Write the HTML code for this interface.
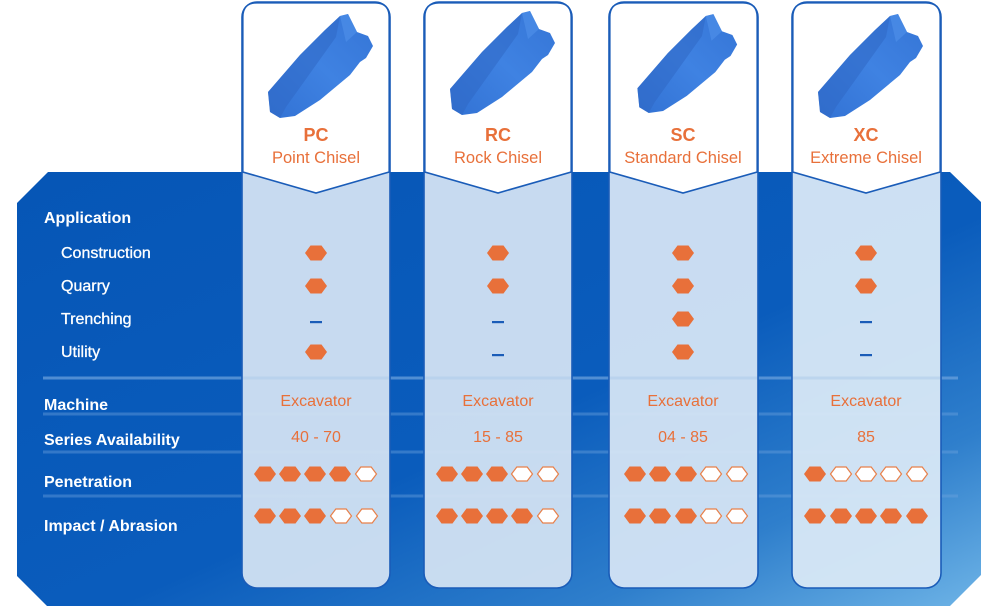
<!DOCTYPE html>
<html><head><meta charset="utf-8"><style>
html,body{margin:0;padding:0;background:#fff;width:1000px;height:606px;overflow:hidden}
text{font-family:"Liberation Sans",sans-serif}
</style></head><body>
<svg width="1000" height="606" viewBox="0 0 1000 606" xmlns="http://www.w3.org/2000/svg">
<defs>
<linearGradient id="bg" x1="0" y1="0" x2="1" y2="1" gradientUnits="objectBoundingBox">
<stop offset="0" stop-color="#0656b6"/>
<stop offset="0.55" stop-color="#0a5cbc"/>
<stop offset="0.8" stop-color="#2f7fcc"/>
<stop offset="1" stop-color="#6db3e6"/>
</linearGradient>
<linearGradient id="tooth" x1="0" y1="1" x2="1" y2="0">
<stop offset="0" stop-color="#3272d4"/>
<stop offset="0.5" stop-color="#3f82e2"/>
<stop offset="1" stop-color="#3575d6"/>
</linearGradient>
<g id="hf"><polygon points="-11,0 -5.5,-7.5 5.5,-7.5 11,0 5.5,7.5 -5.5,7.5" fill="#e8703a"/></g>
<g id="he"><polygon points="-10.5,0 -5.2,-7 5.2,-7 10.5,0 5.2,7 -5.2,7" fill="#fff" stroke="#e8804a" stroke-width="1.2"/></g>
<g id="dash"><rect x="-6" y="-1" width="12" height="2.2" fill="#1a5cb8"/></g>
<g id="th">
<polygon points="-48,-25 -16,-62 9,-87 24,-101 32,-103 36,-95 41,-85 52,-81 57,-71 50,-59 44,-55 34,-42 4,-17 -21,-1 -36,1 -46,-5" fill="url(#tooth)"/>
<polygon points="-48,-25 -16,-62 9,-87 24,-101 20,-80 -5,-45 -30,-10 -36,1 -46,-5" fill="#2f68c4" opacity="0.55"/>
<polygon points="32,-103 36,-95 41,-85 30,-75 24,-101" fill="#4d8ee8" opacity="0.7"/>
</g>
</defs>

<polygon points="48,172 950,172 981,202 981,575 950,606 47,606 17,576 17,203" fill="url(#bg)"/>

<g stroke="#6fa4de" stroke-width="3" opacity="0.7">
<line x1="43" y1="378" x2="958" y2="378"/>
<line x1="43" y1="414" x2="958" y2="414" opacity="0.6"/>
<line x1="43" y1="452" x2="958" y2="452" opacity="0.6"/>
<line x1="43" y1="496" x2="958" y2="496" opacity="0.6"/>
</g>

<g stroke="#1a5cb8" stroke-width="1.6">
<rect x="242" y="2" width="148" height="586" rx="15" fill="#d2e2f2" fill-opacity="0.95"/>
<rect x="424" y="2" width="148" height="586" rx="15" fill="#d2e2f2" fill-opacity="0.95"/>
<rect x="609" y="2" width="149" height="586" rx="15" fill="#d4e4f4" fill-opacity="0.95"/>
<rect x="792" y="2" width="149" height="586" rx="15" fill="#d8e8f6" fill-opacity="0.95"/>
</g>
<g stroke="#a9c8ea" stroke-width="3" opacity="0.5">
<line x1="243" y1="378" x2="389" y2="378"/><line x1="425" y1="378" x2="571" y2="378"/><line x1="610" y1="378" x2="757" y2="378"/><line x1="793" y1="378" x2="940" y2="378"/>
</g>
<g fill="#fff" stroke="#1a5cb8" stroke-width="1.6">
<path d="M242.8,172 L242.8,17 Q242.8,2.8 257,2.8 L375,2.8 Q389.2,2.8 389.2,17 L389.2,172 L316,193 Z"/>
<path d="M424.8,172 L424.8,17 Q424.8,2.8 439,2.8 L557,2.8 Q571.2,2.8 571.2,17 L571.2,172 L498,193 Z"/>
<path d="M609.8,172 L609.8,17 Q609.8,2.8 624,2.8 L743,2.8 Q757.2,2.8 757.2,17 L757.2,172 L683,193 Z"/>
<path d="M792.8,172 L792.8,17 Q792.8,2.8 807,2.8 L926,2.8 Q940.2,2.8 940.2,17 L940.2,172 L866,193 Z"/>
</g>

<use href="#th" transform="translate(316,117)"/>
<use href="#th" transform="translate(498,114)"/>
<use href="#th" transform="translate(683,112) scale(0.95)"/>
<use href="#th" transform="translate(866,117)"/>

<g fill="#e8703a" text-anchor="middle">
<text x="316" y="141" font-size="18" font-weight="bold">PC</text>
<text x="316" y="163" font-size="16.5">Point Chisel</text>
<text x="498" y="141" font-size="18" font-weight="bold">RC</text>
<text x="498" y="163" font-size="16.5">Rock Chisel</text>
<text x="683" y="141" font-size="18" font-weight="bold">SC</text>
<text x="683" y="163" font-size="16.5">Standard Chisel</text>
<text x="866" y="141" font-size="18" font-weight="bold">XC</text>
<text x="866" y="163" font-size="16.5">Extreme Chisel</text>
</g>

<g fill="#fff" font-size="16">
<text x="44" y="223" font-weight="bold">Application</text>
<text x="61" y="258" stroke="#fff" stroke-width="0.3">Construction</text>
<text x="61" y="291" stroke="#fff" stroke-width="0.3">Quarry</text>
<text x="61" y="324" stroke="#fff" stroke-width="0.3">Trenching</text>
<text x="61" y="357" stroke="#fff" stroke-width="0.3">Utility</text>
<text x="44" y="410" font-weight="bold">Machine</text>
<text x="44" y="445" font-weight="bold">Series Availability</text>
<text x="44" y="487" font-weight="bold">Penetration</text>
<text x="44" y="531" font-weight="bold">Impact / Abrasion</text>
</g>

<use href="#hf" x="316" y="253"/><use href="#hf" x="316" y="286"/><use href="#dash" x="316" y="322"/><use href="#hf" x="316" y="352"/>
<use href="#hf" x="498" y="253"/><use href="#hf" x="498" y="286"/><use href="#dash" x="498" y="322"/><use href="#dash" x="498" y="355"/>
<use href="#hf" x="683" y="253"/><use href="#hf" x="683" y="286"/><use href="#hf" x="683" y="319"/><use href="#hf" x="683" y="352"/>
<use href="#hf" x="866" y="253"/><use href="#hf" x="866" y="286"/><use href="#dash" x="866" y="322"/><use href="#dash" x="866" y="355"/>

<g fill="#e8703a" font-size="16" text-anchor="middle">
<text x="316" y="406">Excavator</text><text x="316" y="442">40 - 70</text>
<text x="498" y="406">Excavator</text><text x="498" y="442">15 - 85</text>
<text x="683" y="406">Excavator</text><text x="683" y="442">04 - 85</text>
<text x="866" y="406">Excavator</text><text x="866" y="442">85</text>
</g>

<use href="#hf" x="265" y="474"/><use href="#hf" x="290" y="474"/><use href="#hf" x="315" y="474"/><use href="#hf" x="340" y="474"/><use href="#he" x="366" y="474"/>
<use href="#hf" x="447" y="474"/><use href="#hf" x="472" y="474"/><use href="#hf" x="497" y="474"/><use href="#he" x="522" y="474"/><use href="#he" x="548" y="474"/>
<use href="#hf" x="635" y="474"/><use href="#hf" x="660" y="474"/><use href="#hf" x="686" y="474"/><use href="#he" x="711" y="474"/><use href="#he" x="737" y="474"/>
<use href="#hf" x="815" y="474"/><use href="#he" x="841" y="474"/><use href="#he" x="866" y="474"/><use href="#he" x="891" y="474"/><use href="#he" x="917" y="474"/>

<use href="#hf" x="265" y="516"/><use href="#hf" x="290" y="516"/><use href="#hf" x="315" y="516"/><use href="#he" x="341" y="516"/><use href="#he" x="367" y="516"/>
<use href="#hf" x="447" y="516"/><use href="#hf" x="472" y="516"/><use href="#hf" x="497" y="516"/><use href="#hf" x="522" y="516"/><use href="#he" x="548" y="516"/>
<use href="#hf" x="635" y="516"/><use href="#hf" x="660" y="516"/><use href="#hf" x="686" y="516"/><use href="#he" x="711" y="516"/><use href="#he" x="737" y="516"/>
<use href="#hf" x="815" y="516"/><use href="#hf" x="841" y="516"/><use href="#hf" x="866" y="516"/><use href="#hf" x="891" y="516"/><use href="#hf" x="917" y="516"/>
</svg>
</body></html>
